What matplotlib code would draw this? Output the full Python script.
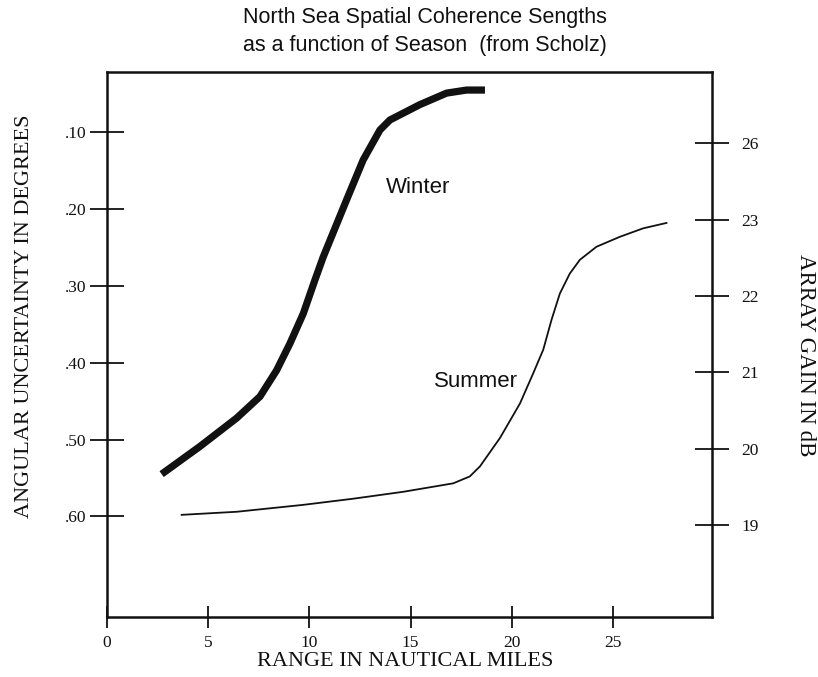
import matplotlib
matplotlib.use("Agg")
import matplotlib.pyplot as plt

# ---- data ----
winter_range = [2.70, 4.59, 6.41, 7.56, 8.38, 9.04, 9.70, 10.28, 10.69, 11.84,
                12.66, 13.49, 13.98, 15.46, 16.78, 17.77, 18.68]
winter_unc = [0.545, 0.509, 0.472, 0.444, 0.410, 0.375, 0.336, 0.292, 0.262, 0.188,
              0.136, 0.097, 0.084, 0.064, 0.049, 0.045, 0.045]

summer_range = [3.69, 6.41, 9.70, 12.17, 14.64, 17.11, 17.93, 18.43, 19.42, 20.41,
                21.06, 21.56, 21.97, 22.38, 22.87, 23.37, 24.19, 25.35, 26.50, 27.65]
summer_unc = [0.598, 0.594, 0.585, 0.577, 0.568, 0.557, 0.548, 0.535, 0.498, 0.453,
              0.414, 0.383, 0.344, 0.310, 0.284, 0.266, 0.249, 0.236, 0.225, 0.218]

x_ticks = [0, 5, 10, 15, 20, 25]
left_ticks = [0.10, 0.20, 0.30, 0.40, 0.50, 0.60]
left_labels = [".10", ".20", ".30", ".40", ".50", ".60"]
right_tick_pos = [19, 20, 21, 22, 23, 24]
right_labels = ["19", "20", "21", "22", "23", "26"]

W, H = 818, 677
fig = plt.figure(figsize=(W / 100, H / 100), dpi=100)
L, R, T, B = 107, 712, 72, 617
ax = fig.add_axes([L / W, 1 - B / H, (R - L) / W, (B - T) / H])

serif = ["Liberation Serif", "DejaVu Serif"]
sans = ["Liberation Sans", "DejaVu Sans"]
ink = "#111111"

ax.plot(winter_range, winter_unc, color=ink, lw=5.2, solid_capstyle="butt",
        solid_joinstyle="round")
ax.plot(summer_range, summer_unc, color=ink, lw=1.3, solid_joinstyle="round")

ax.set_xlim(0, 29.9)
ax.set_ylim(0.731, 0.0215)

for s in ax.spines.values():
    s.set_linewidth(1.8)
    s.set_color(ink)

ax.set_xticks(x_ticks)
ax.set_xticklabels([str(t) for t in x_ticks], fontfamily=serif, fontsize=12.5)
ax.set_yticks(left_ticks)
ax.set_yticklabels(left_labels, fontfamily=serif, fontsize=12.5)
ax.tick_params(axis="x", direction="inout", length=16, width=1.3, pad=5, colors=ink)
ax.tick_params(axis="y", direction="inout", length=24, width=1.3, pad=3, colors=ink)

ax2 = ax.twinx()
ax2.set_ylim(17.80, 24.93)
ax2.set_yticks(right_tick_pos)
ax2.set_yticklabels(right_labels, fontfamily=serif, fontsize=12.5)
ax2.tick_params(axis="y", direction="inout", length=24, width=1.3, pad=9, colors=ink)
for s in ax2.spines.values():
    s.set_visible(False)

# titles and labels
fig.text(425 / W, 1 - 18 / H, "North Sea Spatial Coherence Sengths", ha="center",
         va="center", fontsize=15.5, fontfamily=sans, color=ink)
fig.text(425 / W, 1 - 45 / H, "as a function of Season  (from Scholz)", ha="center",
         va="center", fontsize=15.5, fontfamily=sans, color=ink)
fig.text(405 / W, 1 - 662 / H, "RANGE IN NAUTICAL MILES", ha="center", va="center",
         fontsize=16, fontfamily=serif, color=ink)
fig.text(25 / W, 1 - 316 / H, "ANGULAR UNCERTAINTY IN DEGREES", ha="center",
         va="center", rotation=90, fontsize=16, fontfamily=serif, color=ink)
fig.text(805 / W, 1 - 355 / H, "ARRAY GAIN IN dB", ha="center", va="center",
         rotation=-90, fontsize=16.5, fontfamily=serif, color=ink)

ax.text((418 - L) / 20.24, 0.10 + (187 - 132.3) / 768, "Winter", ha="center",
        va="center", fontsize=16, fontfamily=sans, color=ink)
ax.text((476 - L) / 20.24, 0.10 + (381 - 132.3) / 768, "Summer", ha="center",
        va="center", fontsize=16, fontfamily=sans, color=ink)

fig.savefig("out.png", dpi=100, facecolor="white")
